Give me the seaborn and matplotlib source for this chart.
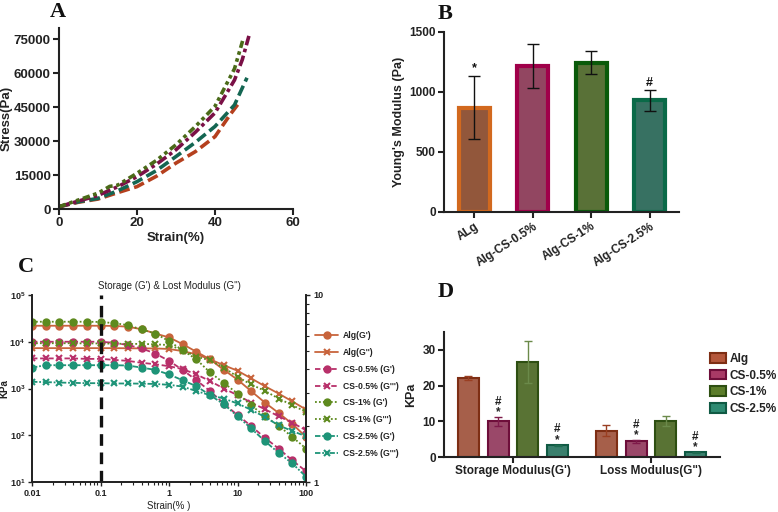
import numpy as np
import pandas as pd
import seaborn as sns
import matplotlib.pyplot as plt
from matplotlib.lines import Line2D
from matplotlib.patches import Patch

# ---- A: stress-strain curves ----
a_alg_x = [0, 5, 10, 15, 20, 25, 30, 35, 40, 44, 46.2]
a_alg_y = [1000, 3000, 4400, 7200, 9900, 14500, 20300, 25400, 32000, 42000, 47000]
a_cs05_x = [0, 5, 10, 15, 20, 25, 30, 35, 40, 45, 47, 48.7]
a_cs05_y = [1000, 3500, 6000, 9800, 14300, 19800, 26200, 34000, 42500, 57000, 66000, 76500]
a_cs1_x = [0, 5, 10, 13, 15, 20, 25, 30, 35, 40, 45, 47.2]
a_cs1_y = [1000, 4000, 7000, 10000, 10500, 15800, 21500, 28400, 36500, 45400, 62000, 75000]
a_cs25_x = [0, 5, 10, 15, 20, 25, 30, 35, 40, 45, 48.2]
a_cs25_y = [1000, 3200, 4700, 8000, 12100, 17000, 23200, 29500, 36500, 46000, 58000]

# ---- B: Young's modulus ----
b_labels = ["ALg", "Alg-CS-0.5%", "Alg-CS-1%", "Alg-CS-2.5%"]
b_young = [870, 1215, 1245, 930]
b_err = [265, 185, 93, 88]
b_marks = ["*", "", "", "#"]

# ---- C: strain sweep ----
c_strain = [0.01, 0.0158, 0.0251, 0.0398, 0.0631, 0.1, 0.158, 0.251, 0.398, 0.631,
            1, 1.58, 2.51, 3.98, 6.31, 10, 15.8, 25.1, 39.8, 63.1, 100]
c_alg_g1 = [22000, 22000, 22000, 22000, 22000, 22000, 21800, 21000, 18500, 15000,
            12400, 8900, 6100, 4200, 2500, 1550, 880, 500, 300, 175, 92]
c_alg_g2 = [7300, 7300, 7300, 7300, 7300, 7300, 7300, 7250, 7200, 7200,
            7000, 6300, 5400, 4200, 3150, 2400, 1650, 1120, 780, 530, 355]
c_cs05_g1 = [10000, 10000, 10000, 10000, 10000, 10000, 9500, 8500, 7200, 5600,
             3900, 2500, 1500, 880, 475, 270, 158, 88, 52, 29, 17]
c_cs05_g2 = [4400, 4400, 4400, 4400, 4300, 4300, 4100, 3900, 3550, 3300,
             3000, 2600, 2000, 1440, 1000, 720, 500, 360, 255, 185, 128]
c_cs1_g1 = [26800, 26800, 26800, 26800, 26800, 26500, 25000, 22700, 18300, 15000,
            10300, 6600, 4200, 2200, 1320, 780, 440, 255, 160, 92, 52]
c_cs1_g2 = [9300, 9300, 9300, 9300, 9200, 9200, 9100, 9000, 9000, 8800,
            8500, 6600, 4800, 4000, 2800, 1780, 1220, 890, 610, 440, 315]
c_cs25_g1 = [2800, 3150, 3150, 3150, 3150, 3150, 3150, 3100, 2800, 2500,
             2000, 1500, 1120, 720, 460, 255, 140, 75, 42, 25, 13]
c_cs25_g2 = [1390, 1370, 1340, 1320, 1300, 1300, 1280, 1280, 1270, 1250,
             1200, 1100, 880, 720, 610, 478, 350, 246, 163, 123, 95]

# ---- D: moduli at 0.1% strain ----
d_groups = ["Storage Modulus(G')", 'Loss Modulus(G")']
d_samples = ["Alg", "CS-0.5%", "CS-1%", "CS-2.5%"]
d_storage = [22.2, 10.0, 26.6, 3.3]
d_storage_err = [0.6, 1.2, 5.8, 0.2]
d_loss = [7.4, 4.4, 10.2, 1.35]
d_loss_err = [1.6, 0.5, 1.4, 0.1]
d_marks = [False, True, False, True]

sns.set_theme(style="ticks")
plt.rcParams['font.family'] = ['Liberation Sans', 'DejaVu Sans']
plt.rcParams['font.weight'] = 'bold'
plt.rcParams['axes.labelweight'] = 'bold'
plt.rcParams['text.color'] = '#222222'
plt.rcParams['axes.labelcolor'] = '#222222'
plt.rcParams['xtick.color'] = '#222222'
plt.rcParams['ytick.color'] = '#222222'
plt.rcParams['axes.edgecolor'] = '#222222'

W, H = 778, 512
fig = plt.figure(figsize=(W / 100, H / 100), dpi=100)


def box(l, r, t, b):
    return [l / W, 1 - b / H, (r - l) / W, (b - t) / H]


def letter(x, y, s):
    fig.text(x / W, 1 - y / H, s, family=['Liberation Serif', 'DejaVu Serif'],
             fontsize=16, weight='bold', color='#111111', va='center', ha='left')


# ===== A =====
axA = fig.add_axes(box(59, 293, 28, 209))
a_series = [
    (a_alg_x, a_alg_y, '#B5401E', (0, (3, 1.3))),
    (a_cs25_x, a_cs25_y, '#146652', (0, (3, 1.3))),
    (a_cs05_x, a_cs05_y, '#7A1046', (0, (3, 1, 1, 1))),
    (a_cs1_x, a_cs1_y, '#4A6A18', (0, (2, 1, 1, 1, 1, 1))),
]
for xs, ys, col, ls in a_series:
    sns.lineplot(x=xs, y=ys, ax=axA, color=col, linestyle=ls, linewidth=2.6)
axA.set_xlim(0, 60)
axA.set_ylim(0, 80000)
axA.set_xticks([0, 20, 40, 60])
axA.set_yticks([0, 15000, 30000, 45000, 60000, 75000])
axA.set_xlabel("Strain(%)", fontsize=9.5, labelpad=2)
axA.set_ylabel("Stress(Pa)", fontsize=9.5, labelpad=1)
sns.despine(ax=axA)
axA.tick_params(labelsize=9.5, width=1.5, length=4, pad=2)
for s in axA.spines.values():
    s.set_linewidth(1.5)
letter(50, 12, "A")

# ===== B =====
axB = fig.add_axes(box(444, 679, 32, 212))
b_face = ['#A0522D', '#9E3A5E', '#5A7A2E', '#2E7A66']
b_edge = ['#D2691E', '#A0004A', '#0A5A0A', '#0A6A48']
sns.barplot(x=b_labels, y=b_young, hue=b_labels, palette=b_face, legend=False,
            width=0.53, linewidth=3, ax=axB)
bars = sorted(axB.patches, key=lambda p: p.get_x())
for bar, ec, v, e, m in zip(bars, b_edge, b_young, b_err, b_marks):
    bar.set_edgecolor(ec)
    cx = bar.get_x() + bar.get_width() / 2
    axB.errorbar(cx, v, yerr=e, color='#111111', capsize=4, elinewidth=1, capthick=1)
    if m:
        axB.text(cx, v + e + 10, m, ha='center', va='bottom', fontsize=9,
                 color='#111111')
axB.set_xlim(-0.52, 3.5)
axB.set_ylim(0, 1500)
axB.set_yticks([0, 500, 1000, 1500])
axB.set_ylabel("Young's Modulus (Pa)", fontsize=9, labelpad=3)
sns.despine(ax=axB)
axB.tick_params(labelsize=8.5, width=1.5, length=4, pad=2)
plt.setp(axB.get_xticklabels(), rotation=33, ha='right', rotation_mode='anchor')
for s in axB.spines.values():
    s.set_linewidth(1.5)
letter(438, 14, "B")

# ===== C =====
axC = fig.add_axes(box(32, 306, 295, 482))
c_series = [
    ("Alg(G')", c_alg_g1, '#C8643C', '-', 'o'),
    ("Alg(G'')", c_alg_g2, '#C8643C', '-', 'x'),
    ("CS-0.5% (G')", c_cs05_g1, '#B8306A', (0, (3, 1.5)), 'o'),
    ("CS-0.5% (G''')", c_cs05_g2, '#B8306A', (0, (3, 1.5)), 'x'),
    ("CS-1% (G')", c_cs1_g1, '#5E8A1E', (0, (1, 1.2)), 'o'),
    ("CS-1% (G''')", c_cs1_g2, '#5E8A1E', (0, (1, 1.2)), 'x'),
    ("CS-2.5% (G')", c_cs25_g1, '#1E9478', (0, (3, 1, 1, 1, 1, 1)), 'o'),
    ("CS-2.5% (G''')", c_cs25_g2, '#1E9478', (0, (3, 1, 1, 1, 1, 1)), 'x'),
]
handles = []
for lab, ys, col, ls, mk in c_series:
    sns.lineplot(x=c_strain, y=ys, ax=axC, color=col, linestyle=ls, linewidth=1.3,
                 marker=mk, markersize=4.5, markeredgewidth=1.5,
                 markeredgecolor=col, markerfacecolor=col)
    handles.append(Line2D([0], [0], color=col, linestyle=ls, linewidth=1.3,
                          marker=mk, markersize=4.5, markeredgewidth=1.5,
                          markeredgecolor=col, markerfacecolor=col))
axC.set_xscale('log')
axC.set_yscale('log')
axC.set_xlim(0.01, 100)
axC.set_ylim(10, 1e5)
axC.axvline(0.1, color='#111111', linestyle=(0, (3.5, 2)), linewidth=2.4)
axC.set_xticks([0.01, 0.1, 1, 10, 100])
axC.set_xticklabels(["0.01", "0.1", "1", "10", "100"])
axC.yaxis.set_minor_locator(plt.NullLocator())
axC.set_xlabel("Strain(% )", fontsize=7, weight='normal', labelpad=2)
axC.set_ylabel("KPa", fontsize=7, labelpad=0)
axC.set_title("Storage (G') & Lost Modulus (G'')", fontsize=7, weight='normal', pad=4)
axC.tick_params(labelsize=6.5, width=1, length=3, pad=2)
axC.tick_params(which='minor', width=0.8, length=2)
axC.spines['top'].set_visible(False)
axC2 = axC.twinx()
axC2.set_yscale('log')
axC2.set_ylim(1, 10)
axC2.set_yticks([1, 10])
axC2.set_yticklabels(["1", "10"])
axC2.spines['top'].set_visible(False)
axC2.tick_params(labelsize=6.5, width=1, length=3, pad=2)
axC2.tick_params(which='minor', width=0.8, length=2)
axC2.yaxis.set_minor_formatter(plt.NullFormatter())
fig.legend(handles, [c[0] for c in c_series], loc='upper left',
           bbox_to_anchor=(311 / W, 1 - 327 / H), frameon=False, fontsize=6.2,
           handlelength=2.6, handletextpad=0.6, labelspacing=0.9, borderpad=0)
letter(18, 267, "C")

# ===== D =====
axD = fig.add_axes(box(444, 720, 332, 457))
d_df = pd.DataFrame({
    "modulus": [g for g in d_groups for _ in d_samples],
    "sample": d_samples * 2,
    "kpa": d_storage + d_loss,
})
d_face = ['#B5573B', '#A83A66', '#5B7D2A', '#2E8B72']
d_edge = ['#7E2E14', '#6E0E3A', '#2E4F12', '#105A44']
d_errc = ['#9A3F22', '#7E1A4A', '#6B8A4A', '#1E6B50']
sns.barplot(data=d_df, x="modulus", y="kpa", hue="sample", palette=d_face,
            width=0.86, gap=0.29, linewidth=1.5, errorbar=None, legend=False, ax=axD)
for cont, ec, erc, v_s, e_s, v_l, e_l, mk in zip(
        axD.containers, d_edge, d_errc, d_storage, d_storage_err, d_loss, d_loss_err, d_marks):
    for bar, v, e in zip(cont, [v_s, v_l], [e_s, e_l]):
        bar.set_edgecolor(ec)
        cx = bar.get_x() + bar.get_width() / 2
        axD.errorbar(cx, v, yerr=e, color=erc, capsize=3, elinewidth=1, capthick=1)
        if mk:
            axD.text(cx, v + e + 1.3, "*", ha='center', va='center', fontsize=8.5,
                     color='#222222')
            axD.text(cx, v + e + 4.2, "#", ha='center', va='center', fontsize=8.5,
                     color='#222222')
axD.set_xlim(-0.5, 1.5)
axD.set_ylim(0, 35)
axD.set_yticks([0, 10, 20, 30])
axD.set_xlabel("")
axD.set_ylabel("KPa", fontsize=9, labelpad=4)
sns.despine(ax=axD)
axD.tick_params(labelsize=8.5, width=1.5, length=4, pad=2)
for s in axD.spines.values():
    s.set_linewidth(1.5)
d_handles = [Patch(facecolor=f, edgecolor=e, linewidth=1.5) for f, e in zip(d_face, d_edge)]
fig.legend(d_handles, d_samples, loc='upper left', bbox_to_anchor=(704 / W, 1 - 347 / H),
           frameon=False, fontsize=8.5, handlelength=1.4, handleheight=0.9,
           handletextpad=0.3, labelspacing=0.4, borderpad=0)
letter(438, 292, "D")

fig.savefig("out.png", dpi=100)
